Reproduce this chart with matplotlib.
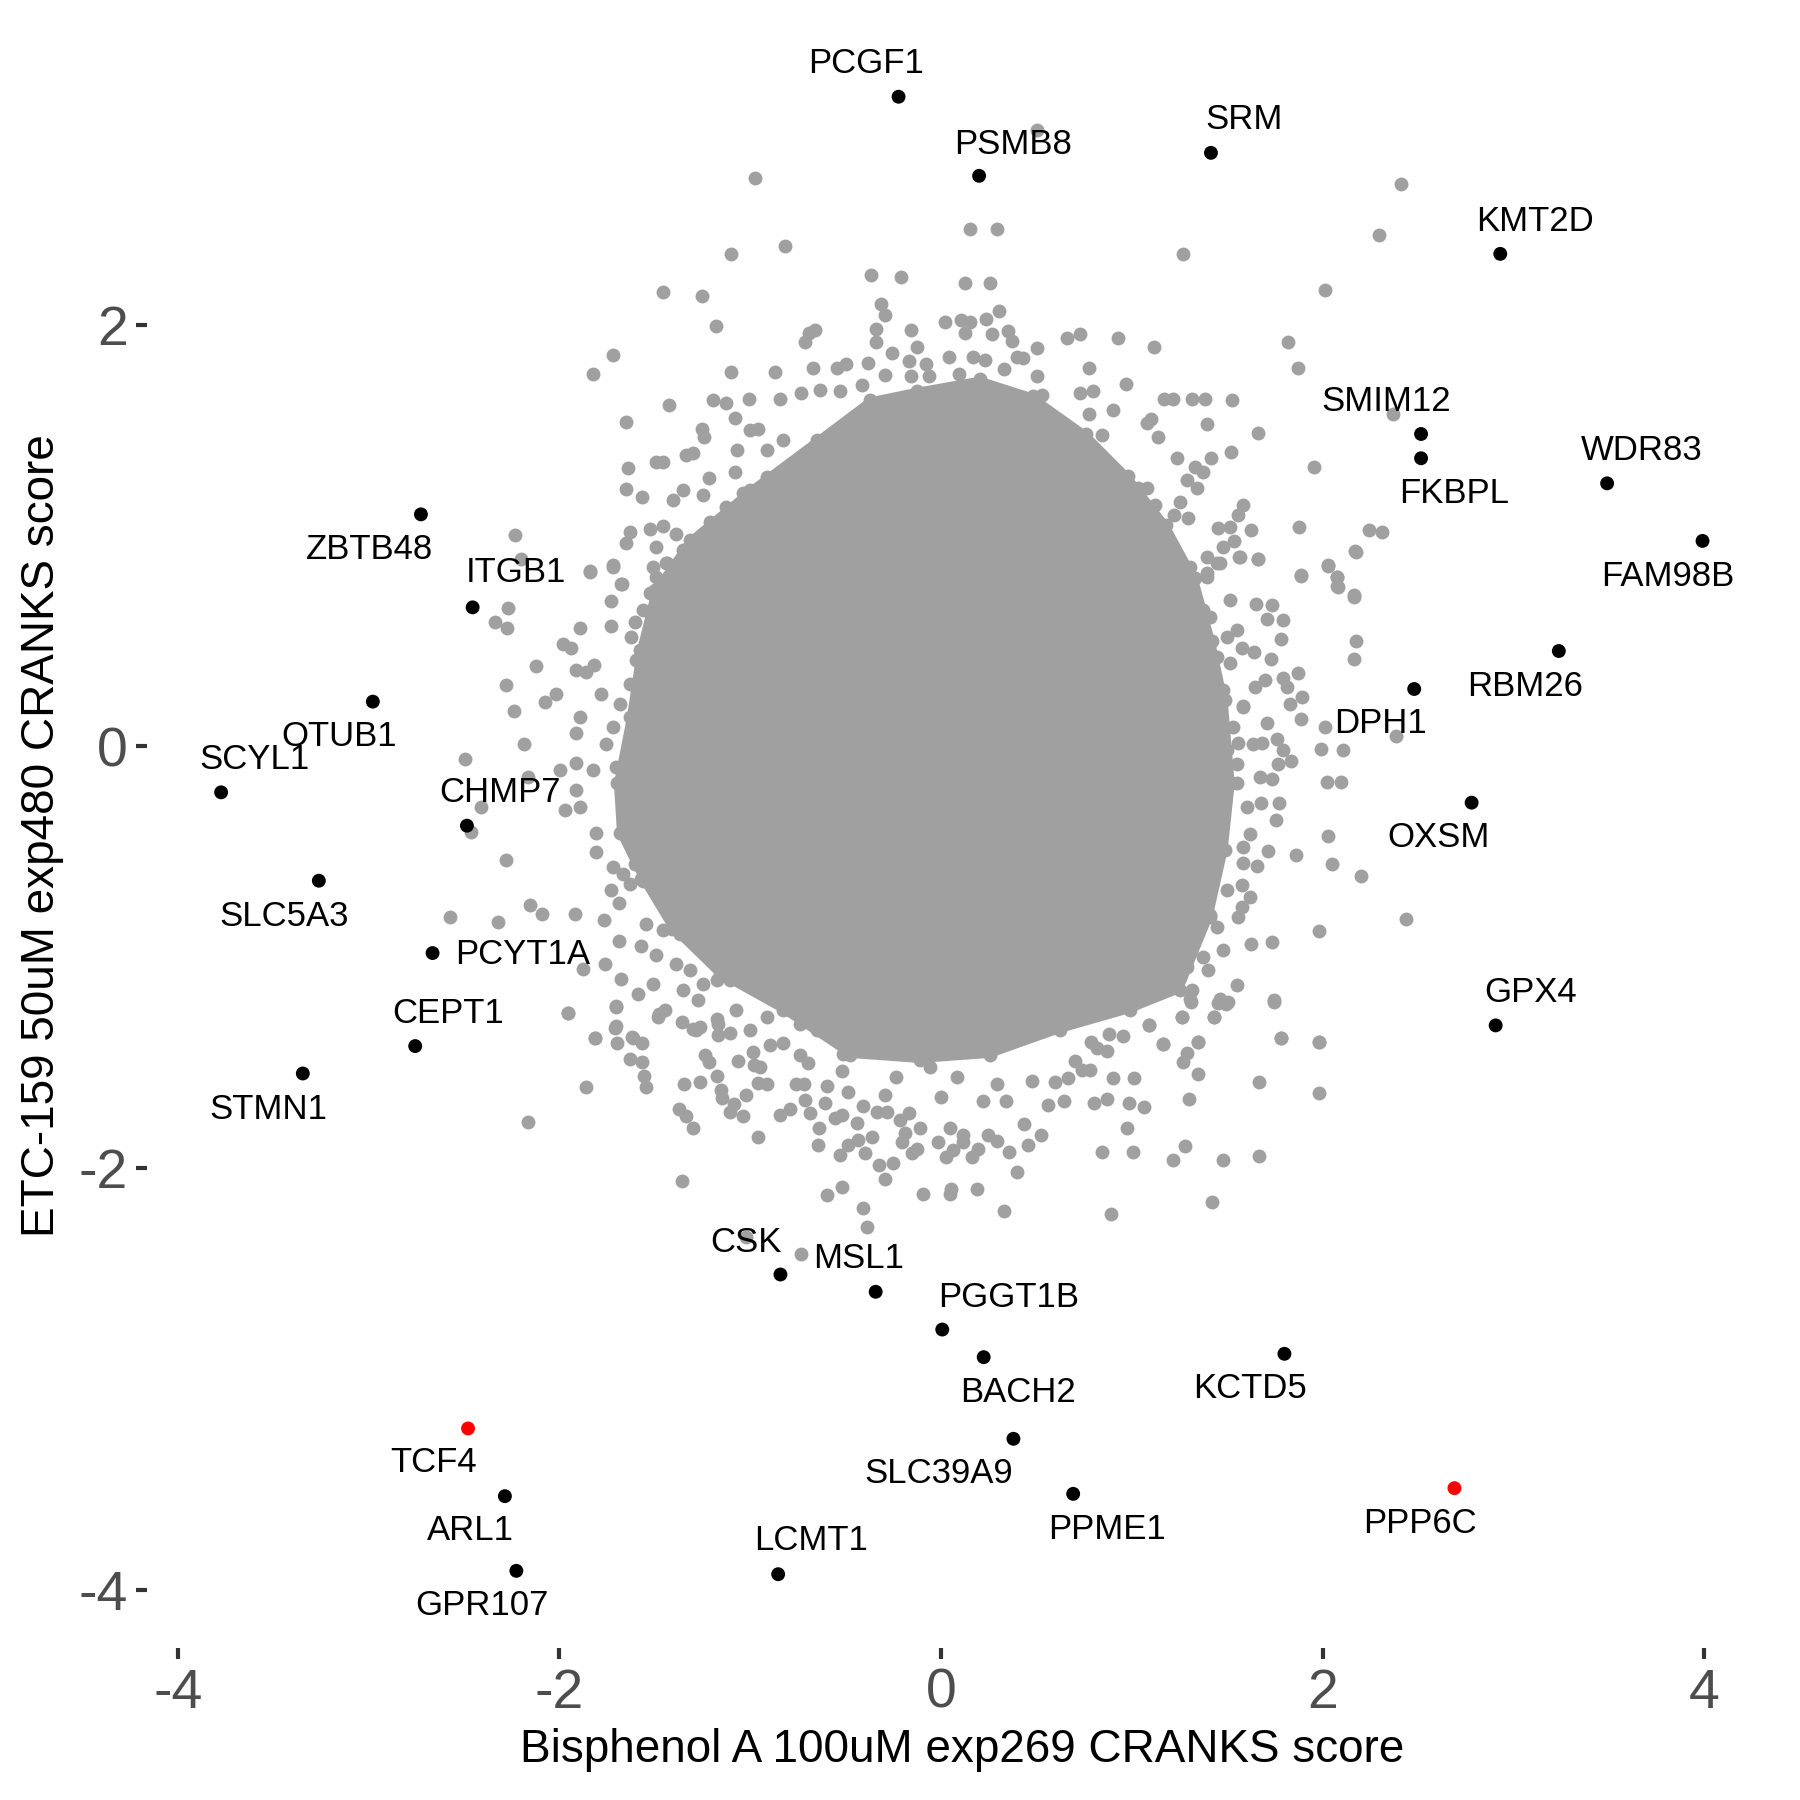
import numpy as np
import matplotlib
matplotlib.use('Agg')
import matplotlib.pyplot as plt

plt.rcParams['font.family'] = ['Liberation Sans', 'DejaVu Sans']

# labelled genes: name, x score, y score
genes = ['PCGF1', 'PSMB8', 'SRM', 'KMT2D', 'SMIM12', 'FKBPL', 'WDR83', 'FAM98B',
         'RBM26', 'DPH1', 'OXSM', 'GPX4', 'KCTD5', 'PPP6C', 'PPME1', 'SLC39A9',
         'BACH2', 'PGGT1B', 'MSL1', 'CSK', 'LCMT1', 'GPR107', 'ARL1', 'TCF4',
         'STMN1', 'CEPT1', 'PCYT1A', 'SLC5A3', 'CHMP7', 'SCYL1', 'OTUB1', 'ITGB1',
         'ZBTB48']
gene_x = [-0.223, 0.199, 1.414, 2.93, 2.515, 2.515, 3.49, 3.99,
          3.237, 2.479, 2.78, 2.906, 1.799, 2.69, 0.692, 0.379,
          0.223, 0.006, -0.343, -0.842, -0.854, -2.226, -2.286, -2.479,
          -3.345, -2.756, -2.665, -3.261, -2.485, -3.773, -2.978, -2.455,
          -2.726]
gene_y = [3.08, 2.705, 2.814, 2.335, 1.481, 1.366, 1.247, 0.974,
          0.452, 0.272, -0.267, -1.323, -2.88, -3.517, -3.544, -3.283,
          -2.896, -2.765, -2.586, -2.504, -3.925, -3.909, -3.555, -3.234,
          -1.551, -1.421, -0.980, -0.637, -0.376, -0.218, 0.212, 0.659,
          1.100]
highlight = ['TCF4', 'PPP6C']

# label offsets in points (dx, dy)
label_offset = {
    'PCGF1': (-11.6, 12.0), 'PSMB8': (12.4, 11.2), 'SRM': (12.0, 12.0),
    'KMT2D': (12.4, 11.6), 'SMIM12': (-12.4, 11.6), 'FKBPL': (12.0, -12.8),
    'WDR83': (12.4, 12.0), 'FAM98B': (-12.4, -12.8), 'RBM26': (-12.0, -12.8),
    'DPH1': (-12.0, -12.4), 'OXSM': (-12.0, -12.4), 'GPX4': (12.4, 12.0),
    'KCTD5': (-12.4, -12.4), 'PPP6C': (-12.4, -12.8), 'PPME1': (12.0, -12.8),
    'SLC39A9': (-26.8, -12.4), 'BACH2': (12.4, -12.8), 'PGGT1B': (24.0, 11.6),
    'MSL1': (-6.2, 12.0), 'CSK': (-12.4, 11.6), 'LCMT1': (12.0, 12.0),
    'GPR107': (-12.4, -12.4), 'ARL1': (-12.4, -12.4), 'TCF4': (-12.4, -12.4),
    'STMN1': (-12.4, -12.8), 'CEPT1': (12.0, 11.6), 'PCYT1A': (32.6, -0.4),
    'SLC5A3': (-12.4, -12.8), 'CHMP7': (12.0, 12.0), 'SCYL1': (12.0, 12.0),
    'OTUB1': (-12.0, -12.4), 'ITGB1': (15.7, 12.4), 'ZBTB48': (-18.6, -12.8),
}

# outline of the saturated centre of the cloud (where the dots cover everything)
core_x = [-0.127, -0.374, -0.652, -1.003, -1.317, -1.501, -1.579, -1.632,
          -1.700, -1.684, -1.563, -1.411, -1.160, -0.830, -0.478, -0.112,
          0.255, 0.622, 0.989, 1.251, 1.408, 1.487, 1.524, 1.487,
          1.420, 1.330, 1.180, 0.980, 0.760, 0.480, 0.203]
core_y = [1.687, 1.641, 1.452, 1.215, 0.978, 0.741, 0.456, 0.138,
          -0.176, -0.413, -0.636, -0.864, -1.085, -1.251, -1.464, -1.488,
          -1.464, -1.346, -1.251, -1.156, -0.810, -0.492, -0.176, 0.219,
          0.500, 0.800, 1.050, 1.280, 1.480, 1.660, 1.740]

# remaining background genes, outside the saturated centre
bg_points = [
    # upper left
    (-0.976, 2.693), (-0.819, 2.373), (-1.099, 2.334), (-0.370, 2.234), (-0.211, 2.223),
    (-1.460, 2.152), (-1.252, 2.135), (0.124, 2.195), (0.150, 2.452), (-1.179, 1.994),
    (-0.313, 2.097), (-0.295, 2.045), (-0.659, 1.973), (-0.693, 1.958), (-0.711, 1.915),
    (-0.342, 1.981), (-0.342, 1.915), (-0.159, 1.973), (-0.124, 1.894), (0.019, 2.013),
    (0.103, 2.021), (0.124, 1.958), (-1.721, 1.855), (-1.824, 1.765), (-1.099, 1.776),
    (-0.872, 1.776), (-0.674, 1.795), (-0.548, 1.792), (-0.499, 1.812), (-0.383, 1.819),
    (-0.257, 1.866), (-0.167, 1.828), (-0.077, 1.815), (0.040, 1.844), (0.094, 1.765),
    (-0.065, 1.755), (-0.159, 1.755), (-0.295, 1.760), (-0.414, 1.713), (-0.531, 1.686),
    (-0.636, 1.689), (-0.732, 1.676), (-0.845, 1.649), (-1.006, 1.646), (-1.125, 1.629),
    (-1.195, 1.642), (-1.425, 1.618), (-1.653, 1.539), (-1.081, 1.555), (-1.253, 1.507),
    (-1.244, 1.468), (-1.003, 1.499), (-0.959, 1.507), (-1.492, 1.349), (-1.457, 1.349),
    (-1.335, 1.381), (-1.300, 1.389), (-1.069, 1.404), (-1.640, 1.318), (-1.653, 1.218),
    (-1.567, 1.180), (-1.216, 1.270), (-1.081, 1.302), (-1.352, 1.215), (-1.247, 1.191),
    (-1.405, 1.167), (-2.234, 1.001), (-2.199, 0.886), (-1.841, 0.831), (-1.719, 0.859),
    (-1.675, 0.772), (-1.527, 1.030), (-1.632, 1.017), (-1.649, 0.962), (-1.492, 0.946),
    (-1.457, 1.044), (-1.391, 1.009), (-1.352, 0.930), (-1.509, 0.851), (-1.443, 0.867),
    (-1.335, 0.875), (-1.282, 0.938), (-1.212, 1.065), (-1.177, 1.009), (-1.125, 1.136),
    (-1.038, 1.199), (-0.915, 1.278), (-0.915, 1.404), (-0.828, 1.452),
    # upper right
    (0.500, 2.922), (0.294, 2.452), (1.269, 2.334), (2.410, 2.666), (2.296, 2.424),
    (2.011, 2.163), (0.256, 2.195), (0.305, 2.065), (0.151, 2.013), (0.235, 2.024),
    (0.264, 1.954), (0.352, 1.970), (0.369, 1.923), (0.500, 1.887), (0.661, 1.934),
    (0.727, 1.954), (0.928, 1.934), (1.117, 1.894), (1.819, 1.915), (1.868, 1.796),
    (0.168, 1.847), (0.229, 1.831), (0.329, 1.787), (0.395, 1.847), (0.430, 1.839),
    (0.500, 1.755), (0.775, 1.796), (0.967, 1.716), (0.727, 1.676), (0.797, 1.686),
    (0.526, 1.665), (0.899, 1.597), (0.776, 1.578), (1.169, 1.645), (1.213, 1.645),
    (1.316, 1.645), (1.382, 1.645), (1.522, 1.642), (1.099, 1.550), (1.077, 1.534),
    (1.138, 1.465), (1.391, 1.528), (1.659, 1.487), (2.370, 1.575), (0.841, 1.476),
    (1.234, 1.365), (1.414, 1.365), (1.519, 1.397), (1.954, 1.325), (1.330, 1.326),
    (1.374, 1.302), (1.286, 1.262), (1.339, 1.223), (1.251, 1.159), (1.220, 1.096),
    (1.295, 1.081), (1.583, 1.144), (1.557, 1.096), (1.624, 1.025), (1.875, 1.038),
    (2.244, 1.025), (2.312, 1.014), (2.169, 0.927), (1.452, 1.033), (1.514, 1.041),
    (1.534, 0.975), (1.479, 0.946), (1.391, 0.899), (1.461, 0.867), (1.563, 0.899),
    (1.662, 0.888), (1.886, 0.809), (2.029, 0.856), (2.076, 0.804), (2.078, 0.756),
    (2.163, 0.717), (1.391, 0.820), (1.182, 0.946), (1.112, 0.914), (1.033, 1.223),
    (1.077, 1.223), (1.120, 1.144), (1.018, 1.136),
    # left flank
    (-1.841, 0.827), (-1.719, 0.851), (-1.670, 0.772), (-1.728, 0.690), (-1.728, 0.570),
    (-1.890, 0.559), (-2.269, 0.658), (-2.339, 0.590), (-2.274, 0.559), (-1.981, 0.487),
    (-1.937, 0.468), (-2.124, 0.380), (-1.911, 0.361), (-1.859, 0.353), (-1.820, 0.385),
    (-2.278, 0.290), (-2.016, 0.247), (-2.077, 0.211), (-1.780, 0.247), (-2.240, 0.168),
    (-1.890, 0.140), (-1.915, 0.061), (-2.187, 0.013), (-2.496, -0.058), (-1.911, -0.077),
    (-1.998, -0.110), (-1.824, -0.113), (-2.164, -0.145), (-1.911, -0.208), (-1.972, -0.303),
    (-1.890, -0.287), (-2.409, -0.287), (-2.461, -0.406), (-2.278, -0.537), (-1.806, -0.413),
    (-1.806, -0.500), (-1.719, -0.572), (-1.667, -0.603), (-1.605, -0.556), (-1.632, -0.651),
    (-1.571, -0.627), (-1.728, -0.682), (-1.688, -0.742), (-2.156, -0.753), (-2.089, -0.793),
    (-1.920, -0.796), (-1.768, -0.824), (-2.322, -0.832), (-2.575, -0.809), (-1.688, -0.922),
    (-1.571, -0.948), (-1.492, -0.990), (-1.763, -1.030), (-1.680, -1.101), (-1.876, -1.054),
    (-1.509, -1.125), (-1.588, -1.172), (-1.702, -1.232), (-1.955, -1.264), (-1.478, -1.267),
    (-1.702, -1.327), (-1.815, -1.385), (-1.614, -1.385), (-1.544, -0.840), (-1.457, -0.872),
    (-1.387, -1.030), (-1.317, -1.061), (-1.352, -1.156), (-1.247, -1.125), (-1.177, -1.109),
    (-1.108, -1.109), (-1.273, -1.204), (-1.177, -1.291), (-1.073, -1.251), (-1.003, -1.346),
    (-1.282, -1.346), (-0.915, -1.283), (-0.793, -1.251), (-0.741, -1.314), (-0.653, -1.346),
    (-1.597, -0.287), (-1.667, -0.319), (-1.527, -0.255), (-1.457, -0.461), (-1.439, -0.540),
    (-1.667, -0.145), (-1.702, -0.097), (-1.754, 0.013), (-1.719, 0.092), (-1.684, 0.203),
    (-1.632, 0.298), (-1.597, 0.408), (-1.623, 0.519), (-1.605, 0.590), (-1.527, 0.725),
    (-1.492, 0.804), (-1.439, 0.867), (-1.562, 0.646), (-1.457, 0.487), (-1.474, 0.266),
    (-1.509, 0.000), (-1.527, -0.492), (-1.439, -0.745), (-1.370, -0.888),
    # right flank
    (2.172, 0.922), (2.029, 0.859), (1.884, 0.811), (2.073, 0.804), (2.076, 0.759),
    (2.163, 0.709), (2.172, 0.500), (2.163, 0.412), (1.658, 0.886), (1.650, 0.677),
    (1.732, 0.669), (1.706, 0.606), (1.793, 0.598), (1.781, 0.511), (1.552, 0.551),
    (1.575, 0.464), (1.639, 0.448), (1.727, 0.412), (1.868, 0.348), (1.645, 0.282),
    (1.697, 0.314), (1.793, 0.322), (1.810, 0.282), (1.889, 0.235), (1.828, 0.200),
    (1.583, 0.190), (1.886, 0.132), (1.706, 0.111), (2.011, 0.092), (2.384, 0.048),
    (1.758, 0.037), (1.990, -0.014), (2.107, -0.018), (1.793, -0.018), (1.831, -0.069),
    (1.767, -0.082), (1.557, 0.016), (1.636, 0.013), (1.679, 0.016), (1.548, -0.082),
    (1.671, -0.145), (1.732, -0.157), (1.552, -0.176), (2.024, -0.168), (2.093, -0.168),
    (1.601, -0.287), (1.674, -0.268), (1.772, -0.268), (1.755, -0.347), (1.618, -0.417),
    (1.583, -0.477), (1.714, -0.496), (1.858, -0.516), (2.029, -0.426), (2.046, -0.556),
    (2.200, -0.616), (1.580, -0.553), (1.653, -0.568), (1.575, -0.658), (1.575, -0.761),
    (1.618, -0.714), (1.557, -0.809), (2.436, -0.817), (1.980, -0.875), (1.624, -0.938),
    (1.732, -0.927), (1.409, -0.666), (1.496, -0.682), (1.391, -0.745), (1.444, -0.856),
    (1.409, -0.801), (1.479, -0.967), (1.374, -0.998), (1.400, -1.061), (1.286, -1.046),
    (1.251, -1.093), (1.549, -1.133), (1.461, -1.196), (1.505, -1.212), (1.313, -1.156),
    (1.304, -1.196), (1.260, -1.283), (1.431, -1.283), (1.744, -1.204), (1.781, -1.385),
    (1.982, -1.401), (1.091, -1.322), (1.164, -1.409), (1.348, -1.401), (1.129, -1.125),
    (1.059, -1.172), (1.147, -1.014), (1.199, -0.919), (1.304, -0.777), (1.339, -0.872),
    (1.444, -0.461), (1.409, -0.382), (1.479, -0.319), (1.374, -0.208), (1.339, -0.271),
    (1.461, -0.176), (1.496, -0.018), (1.444, -0.050), (1.531, 0.092), (1.583, 0.187),
    (1.479, 0.266), (1.514, 0.393), (1.444, 0.424), (1.496, 0.519), (1.409, 0.614),
    (1.514, 0.693), (1.391, 0.804), (1.444, 0.867), (1.566, 0.898), (1.374, 0.646),
    (1.269, 0.772), (1.304, 0.851),
    # lower left
    (-1.955, -1.266), (-1.702, -1.235), (-1.483, -1.282), (-1.448, -1.250), (-1.815, -1.385),
    (-1.707, -1.333), (-1.698, -1.405), (-1.618, -1.380), (-1.570, -1.405), (-1.632, -1.484),
    (-1.565, -1.495), (-1.557, -1.563), (-1.548, -1.614), (-1.862, -1.614), (-2.164, -1.783),
    (-1.356, -1.306), (-1.300, -1.342), (-1.261, -1.329), (-1.169, -1.314), (-1.169, -1.369),
    (-1.104, -1.361), (-1.239, -1.464), (-1.216, -1.495), (-1.177, -1.563), (-1.064, -1.492),
    (-0.985, -1.448), (-0.982, -1.511), (-0.950, -1.519), (-0.898, -1.416), (-0.828, -1.408),
    (-0.741, -1.464), (-0.697, -1.503), (-0.514, -1.459), (-0.522, -1.540), (-1.349, -1.601),
    (-1.265, -1.590), (-0.959, -1.598), (-0.915, -1.601), (-0.758, -1.601), (-0.720, -1.601),
    (-0.597, -1.611), (-1.151, -1.627), (-1.024, -1.653), (-1.146, -1.669), (-1.087, -1.696),
    (-1.107, -1.732), (-1.038, -1.753), (-1.373, -1.717), (-1.338, -1.753), (-1.300, -1.811),
    (-0.845, -1.748), (-0.793, -1.717), (-0.714, -1.677), (-0.688, -1.740), (-0.610, -1.693),
    (-0.487, -1.638), (-0.412, -1.706), (-0.440, -1.785), (-0.557, -1.764), (-0.522, -1.748),
    (-0.639, -1.811), (-0.644, -1.890), (-0.959, -1.851), (-0.528, -1.938), (-0.487, -1.890),
    (-0.435, -1.867), (-0.400, -1.930), (-0.360, -1.854), (-0.325, -1.985), (-0.295, -2.053),
    (-0.251, -1.977), (-0.203, -1.875), (-0.190, -1.835), (-0.155, -1.930), (-0.129, -1.911),
    (-0.335, -1.732), (-0.286, -1.732), (-0.295, -1.653), (-0.216, -1.772), (-0.168, -1.737),
    (-0.112, -1.811), (-0.094, -2.120), (0.054, -2.101), (0.028, -1.946), (0.063, -1.914),
    (-0.016, -1.875), (0.115, -1.843), (-0.522, -2.088), (-0.597, -2.128), (-0.409, -2.191),
    (-0.391, -2.281), (-1.356, -2.060), (-1.020, -2.328), (-0.732, -2.407), (-0.059, -1.519),
    (0.000, -1.661), (0.081, -1.567), (-0.129, -1.440), (-0.234, -1.567), (0.045, -1.408),
    # lower right
    (1.307, -1.211), (1.452, -1.216), (1.493, -1.222), (1.746, -1.211), (1.089, -1.322),
    (1.260, -1.282), (1.431, -1.282), (1.781, -1.385), (1.982, -1.404), (1.164, -1.413),
    (1.344, -1.404), (1.290, -1.453), (1.269, -1.495), (1.344, -1.554), (1.667, -1.593),
    (1.982, -1.642), (1.297, -1.672), (0.954, -1.372), (0.881, -1.364), (0.788, -1.401),
    (0.815, -1.432), (0.867, -1.443), (0.701, -1.491), (0.736, -1.535), (0.780, -1.535),
    (0.899, -1.571), (1.012, -1.571), (0.663, -1.571), (0.596, -1.590), (0.558, -1.701),
    (0.643, -1.680), (0.802, -1.693), (0.871, -1.672), (0.984, -1.693), (1.063, -1.712),
    (0.340, -1.682), (0.221, -1.680), (0.291, -1.601), (0.474, -1.587), (0.975, -1.811),
    (0.434, -1.791), (0.521, -1.843), (0.453, -1.890), (0.247, -1.843), (0.291, -1.870),
    (0.357, -1.922), (0.195, -1.911), (0.160, -1.949), (0.116, -1.875), (0.395, -2.020),
    (0.189, -2.101), (0.046, -2.120), (0.331, -2.202), (0.890, -2.219), (0.844, -1.922),
    (1.003, -1.922), (1.213, -1.962), (1.278, -1.894), (1.479, -1.962), (1.667, -1.941),
    (1.421, -2.159), (0.046, -1.811),
]
bg_x = np.array([p[0] for p in bg_points])
bg_y = np.array([p[1] for p in bg_points])

grey = '#A0A0A0'
dot_size = 25

fig = plt.figure(figsize=(9, 9), dpi=200)
ax = fig.add_axes([0.0817, 0.0844, 0.9053, 0.9029])

ax.fill(core_x, core_y, color=grey, linewidth=2, edgecolor=grey, zorder=1)
ax.scatter(core_x, core_y, s=dot_size, color=grey, linewidths=0, zorder=2)
ax.scatter(bg_x, bg_y, s=dot_size, color=grey, linewidths=0, zorder=2)

gene_col = ['#FF0000' if g in highlight else 'black' for g in genes]
ax.scatter(gene_x, gene_y, s=dot_size, c=gene_col, linewidths=0, zorder=3)

for g, gx, gy in zip(genes, gene_x, gene_y):
    ax.annotate(g, xy=(gx, gy), xytext=label_offset[g], textcoords='offset points',
                ha='center', va='center', fontsize=12.5, color='black', zorder=4)

# ggplot-style 5% expansion around the data range
all_x = np.concatenate([bg_x, gene_x])
all_y = np.concatenate([bg_y, gene_y])
xr = all_x.max() - all_x.min()
yr = all_y.max() - all_y.min()
ax.set_xlim(all_x.min() - 0.05 * xr, all_x.max() + 0.05 * xr)
ax.set_ylim(all_y.min() - 0.05 * yr, all_y.max() + 0.05 * yr)

ax.set_xticks([-4, -2, 0, 2, 4], ['-4', '-2', '0', '2', '4'])
ax.set_yticks([-4, -2, 0, 2], ['-4', '-2', '0', '2'])
ax.tick_params(length=4, width=1.5, color='#333333', labelsize=20,
               labelcolor='#4D4D4D', pad=3)
for s in ax.spines.values():
    s.set_visible(False)

ax.set_xlabel('Bisphenol A 100uM exp269 CRANKS score', fontsize=16.5, labelpad=3)
ax.set_ylabel('ETC-159 50uM exp480 CRANKS score', fontsize=16.5, labelpad=5)

fig.savefig('out.png', dpi=200, facecolor='white')
